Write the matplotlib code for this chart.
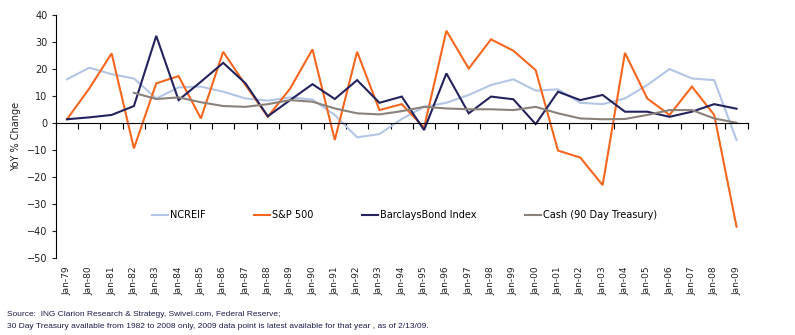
import matplotlib
matplotlib.use("Agg")
import matplotlib.pyplot as plt
import numpy as np

# annual YoY % change, Jan-79 .. Jan-09
years = ["Jan-%02d" % (y % 100) for y in range(1979, 2010)]

ncreif = [16.2, 20.5, 18.1, 16.5, 9.1, 13.2, 13.5, 11.6, 9.1, 8.3,
          9.5, 8.7, 3.0, -5.3, -4.1, 1.5, 6.0, 7.5, 10.4, 14.1,
          16.2, 12.0, 12.5, 7.5, 7.0, 9.1, 14.1, 20.0, 16.5, 15.9, -6.3]
sp500 = [1.4, 12.8, 25.8, -9.4, 14.7, 17.4, 1.7, 26.4, 14.1, 2.3,
         12.8, 27.3, -6.3, 26.4, 4.8, 7.0, -1.7, 34.2, 20.2, 31.0,
         26.8, 19.6, -10.2, -12.8, -23.0, 26.0, 9.1, 3.0, 13.5, 3.0, -38.4]
barclays = [1.4, 2.1, 3.0, 6.3, 32.3, 8.5, 15.3, 22.3, 14.7, 2.5,
            8.5, 14.4, 8.9, 15.9, 7.5, 9.8, -2.6, 18.4, 3.6, 9.8,
            8.8, -0.4, 11.6, 8.5, 10.4, 4.2, 4.2, 2.3, 4.2, 7.0, 5.3]
# cash series only starts in 1982
cash = [None, None, None, 11.2, 8.9, 9.5, 7.7, 6.3, 6.0, 7.0,
        8.5, 7.9, 5.4, 3.6, 3.2, 4.4, 6.0, 5.4, 5.1, 5.1,
        4.8, 6.0, 3.6, 1.7, 1.4, 1.5, 3.0, 4.8, 4.8, 1.7, 0.1]

series = [("NCREIF", ncreif, "#b3c6e6"),
          ("S&P 500", sp500, "#f7661f"),
          ("BarclaysBond Index", barclays, "#24235e"),
          ("Cash (90 Day Treasury)", cash, "#8a817a")]

plt.rcParams["font.family"] = "DejaVu Sans"
fig = plt.figure(figsize=(7.95, 3.35), dpi=100)
ax = fig.add_axes([0.0702, 0.2299, 0.8703, 0.7251])

x = np.arange(len(years))
for name, vals, col in series:
    y = np.array([np.nan if v is None else v for v in vals], dtype=float)
    ax.plot(x, y, color=col, lw=1.5, label=name, solid_joinstyle="miter")

ax.set_xlim(-0.5, len(years) - 0.5)
ax.set_ylim(-50, 40)
ax.set_yticks(range(-50, 41, 10))
ax.tick_params(axis="y", labelsize=7, length=3, width=0.8, pad=3, colors="#222222")

for s in ("top", "right"):
    ax.spines[s].set_visible(False)
ax.spines["left"].set_linewidth(0.8)
ax.spines["bottom"].set_position(("data", 0))
ax.spines["bottom"].set_linewidth(0.8)

# tick marks sit between categories on the zero line
ax.set_xticks(np.arange(-0.5, len(years), 1.0))
ax.tick_params(axis="x", length=4, width=0.8, labelbottom=False, direction="out")

# category labels along the bottom of the plot area
sec = ax.secondary_xaxis("bottom")
sec.set_xticks(x)
sec.set_xticklabels(years, rotation=90, fontsize=6.5, color="#222222")
sec.tick_params(length=0, pad=6)
sec.spines["bottom"].set_visible(False)

ax.set_ylabel("YoY % Change", fontsize=7, color="#222222", labelpad=4)

ax.legend(loc="center left", bbox_to_anchor=(152 / 795, 1 - 215 / 335),
          bbox_transform=fig.transFigure, ncol=4, frameon=False,
          fontsize=7, handlelength=1.65, handletextpad=0.2, columnspacing=5.0,
          borderpad=0, borderaxespad=0)

src_font = dict(fontsize=6, color="#1c1c4c", family="Liberation Sans")
fig.text(0.009, 0.058, "Source:  ING Clarion Research & Strategy, Swivel.com, Federal Reserve;",
         **src_font)
fig.text(0.009, 0.022, "30 Day Treasury available from 1982 to 2008 only, 2009 data point is "
         "latest available for that year , as of 2/13/09.", **src_font)

fig.savefig("out.png", dpi=100)
